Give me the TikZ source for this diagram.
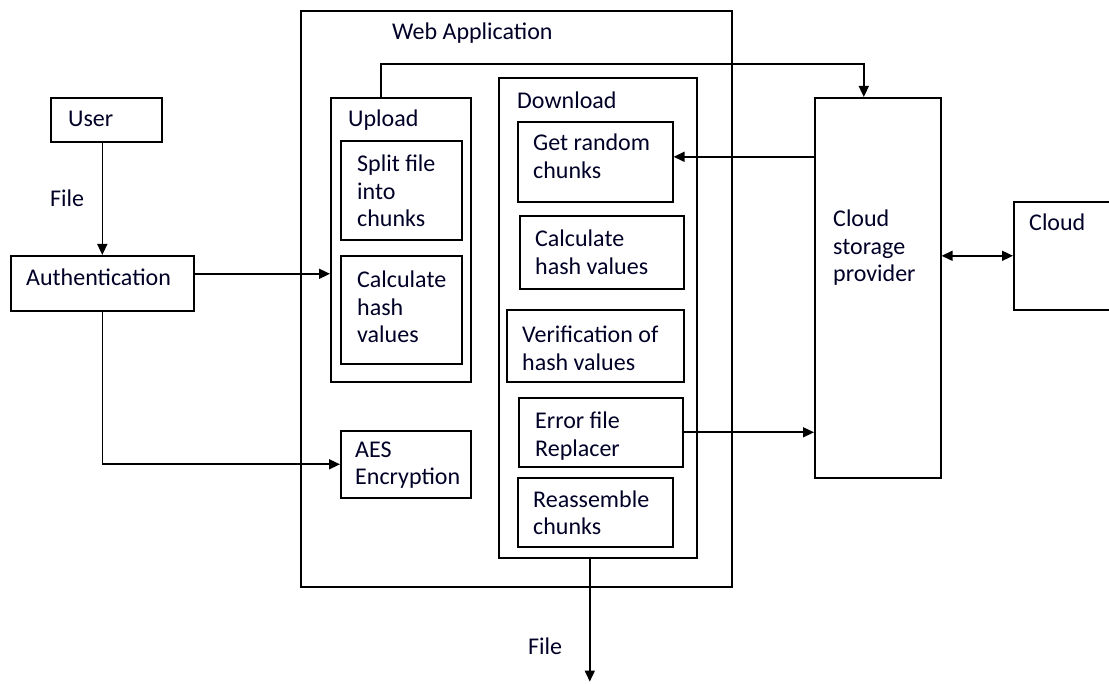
\documentclass[tikz,border=0pt]{standalone}
\usepackage{fontspec}
\setmainfont{Carlito}
\usetikzlibrary{calc,arrows.meta}
\def\LineWidth{1.6pt}
\def\Skip{27.5}
\tikzset{
  box/.style={draw, line width=\LineWidth, anchor=north west, inner sep=0pt},
  txt/.style={anchor=base west, align=left, inner sep=0pt,
    font=\fontsize{24}{\Skip}\selectfont, text=black!85!blue},
  flow/.style={line width=\LineWidth, -{Triangle[length=11pt,width=10pt]}},
  both/.style={flow, {Triangle[length=11pt,width=10pt]}-{Triangle[length=11pt,width=10pt]}},
}

\begin{document}
\begin{tikzpicture}[x=1pt,y=-1pt]
  \useasboundingbox (0,0) rectangle (1109,684);
  % boxes: name/left/top/width/height
  \foreach \name/\x/\y/\w/\h in {
      web/300/10/431/576, user/50/97/111/44, auth/10/255/183/55,
      upload/330/97/140/284, split/340/140/121/99, uhash/340/255/121/108,
      aes/340/430/130/67, download/498/77/198/480, getrand/517/121/155/80,
      dhash/519/215/164/73, verify/506/309/177/72, err/518/397/164/69,
      reasm/517/477/155/69, csp/814/97/126/380, cloud/1013/201/110/108}
    \node[box, minimum width=\w pt, minimum height=\h pt] (\name) at (\x,\y) {};
  % texts (base = last line)
  \node[txt] (web-t) at (392,40) {Web Application};
  \node[txt] (user-t) at (68,127) {User};
  \node[txt] (file-in) at (50,207) {File};
  \node[txt] (auth-t) at (26,286) {Authentication};
  \node[txt] (upload-t) at (348,127) {Upload};
  \node[txt] (split-t) at (357,227) {Split file\\into\\chunks};
  \node[txt] (uhash-t) at (357,343) {Calculate\\hash\\values};
  \node[txt] (aes-t) at (355,484.5) {AES\\Encryption};
  \node[txt] (download-t) at (517,109) {Download};
  \node[txt] (getrand-t) at (533,178.5) {Get random\\chunks};
  \node[txt] (dhash-t) at (535,274.5) {Calculate\\hash values};
  \node[txt] (verify-t) at (522,370.5) {Verification of\\hash values};
  \node[txt] (err-t) at (535,456.5) {Error file\\Replacer};
  \node[txt] (reasm-t) at (533,534.5) {Reassemble\\chunks};
  \node[txt] (csp-t) at (833,282) {Cloud\\storage\\provider};
  \node[txt] (cloud-t) at (1029,231) {Cloud};
  \node[txt] (file-out) at (528,654) {File};
  % connectors
  \coordinate (out) at ($(download.south)+(-8,123)$);
  \draw[flow] (auth.north |- user.south) -- (auth.north);
  \draw[flow] ([yshift=9.5pt]auth.east) -- ([yshift=9.5pt]auth.east -| upload.west);
  \draw[flow] (auth.south) |- (aes.west);
  \draw[flow] ([xshift=-20pt]upload.north) -- ++(0,-33) -| ([xshift=-14pt]csp.north);
  \draw[flow] ([yshift=5pt]getrand.east -| csp.west) -- ([yshift=5pt]getrand.east);
  \draw[flow] (err.east) -- (err.east -| csp.west);
  \draw[both] (csp.east |- cloud.west) -- (cloud.west);
  \draw[flow] ([xshift=-8pt]download.south) -- (out);
\end{tikzpicture}
\end{document}
